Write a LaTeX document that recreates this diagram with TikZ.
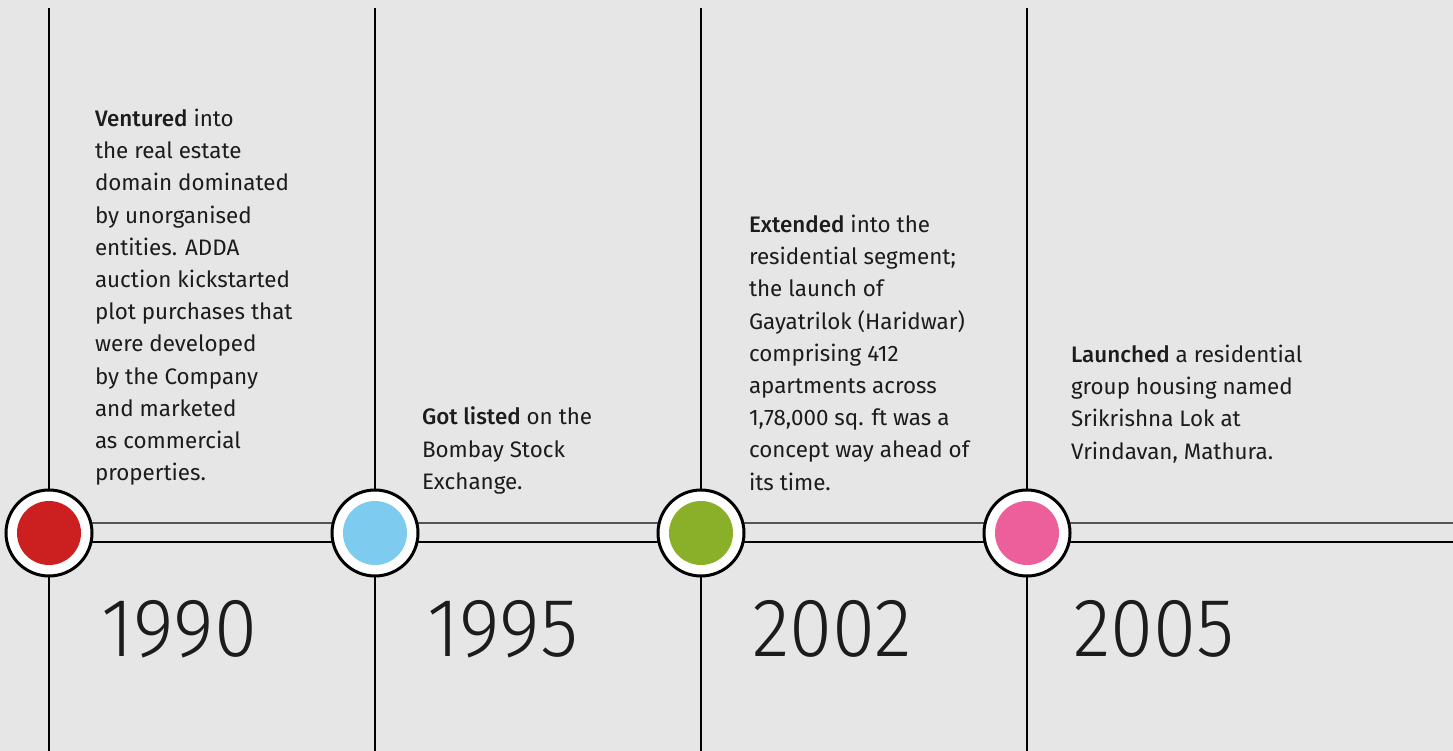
\documentclass[tikz,border=0pt]{standalone}
\usepackage{fontspec}
\setmainfont{Fira Sans}[BoldFont={Fira Sans Medium}]
\newfontfamily\yearfont{Fira Sans Light}[FakeStretch=0.94]
\begin{document}
\begin{tikzpicture}[x=1pt,y=-1pt,
  bodytext/.style={font=\fontsize{22.4}{32.2}\selectfont, text=txt, align=left,
    anchor=north west, inner sep=0pt, outer sep=0pt},
  yearlabel/.style={font=\yearfont\fontsize{83}{83}\selectfont, text=txt,
    anchor=base west, inner sep=0pt},
  axis/.style={line width=1.5pt, draw=black},
  ring/.style={circle, fill=white, draw=black, line width=3pt, minimum size=86pt, inner sep=0pt},
  dot/.style={circle, minimum size=64pt, inner sep=0pt, draw=none}]
\definecolor{bg}{HTML}{E6E6E6}
\definecolor{txt}{HTML}{1C1C1C}
\definecolor{bandtop}{HTML}{555555}
\definecolor{cred}{HTML}{CC1F1F}
\definecolor{cblue}{HTML}{7DCBEE}
\definecolor{cgreen}{HTML}{8AB02A}
\definecolor{cpink}{HTML}{EC5F9B}

% background and page size
\fill[bg] (0,0) rectangle (1453,751);
\useasboundingbox (0,0) rectangle (1453,751);

% vertical time markers
\foreach \n/\x in {1/49,2/375,3/701,4/1027}{
  \coordinate (top\n) at (\x,8);
  \coordinate (bot\n) at (\x,751);
  \draw[axis] (top\n) -- (bot\n);
}

% horizontal band
\coordinate (bandstartA) at (49,523);
\coordinate (bandendA) at (1453,523);
\coordinate (bandstartB) at (49,542);
\coordinate (bandendB) at (1453,542);
\draw[line width=2.5pt, bandtop] (bandstartA) -- (bandendA);
\draw[line width=2pt, black] (bandstartB) -- (bandendB);

% milestone circles
\foreach \n/\x/\c in {1/49/cred,2/375/cblue,3/701/cgreen,4/1027/cpink}{
  \node[ring] (ring\n) at (\x,533) {};
  \node[dot, fill=\c] (dot\n) at (\x,533) {};
}

% descriptions
\node[bodytext] (t1) at (95,109) {\textbf{Ventured} into\\the real estate\\domain dominated\\by unorganised\\entities. ADDA\\auction kickstarted\\plot purchases that\\were developed\\by the Company\\and marketed\\as commercial\\properties.};
\node[bodytext] (t2) at (422,407) {\textbf{Got listed} on the\\Bombay Stock\\Exchange.};
\node[bodytext] (t3) at (749,215) {\textbf{Extended} into the\\residential segment;\\the launch of\\Gayatrilok (Haridwar)\\comprising 412\\apartments across\\1,78,000 sq. ft was a\\concept way ahead of\\its time.};
\node[bodytext] (t4) at (1071,345) {\textbf{Launched} a residential\\group housing named\\Srikrishna Lok at\\Vrindavan, Mathura.};

% years
\node[yearlabel] (y1) at (101,656) {1990};
\node[yearlabel] (y2) at (427,656) {1995};
\node[yearlabel] (y3) at (752,656) {2002};
\node[yearlabel] (y4) at (1073,656) {2005};
\end{tikzpicture}
\end{document}
